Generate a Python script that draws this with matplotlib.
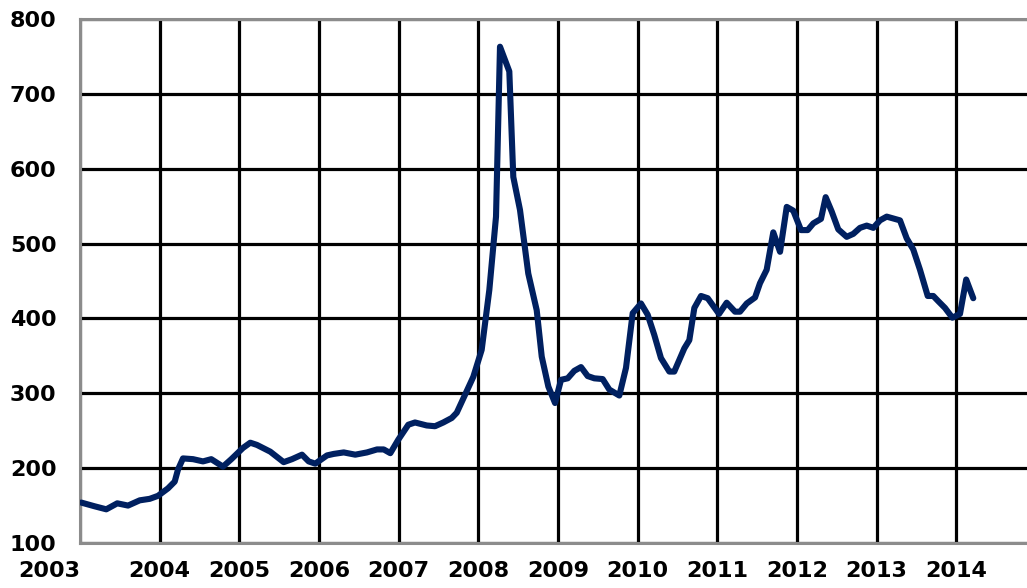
import matplotlib
matplotlib.use("Agg")
import matplotlib.pyplot as plt

# decimal years (time axis) and index values
years = [2003.016, 2003.185, 2003.330, 2003.468, 2003.603, 2003.750, 2003.875, 2003.979,
         2004.105, 2004.189, 2004.230, 2004.293, 2004.419, 2004.544, 2004.648, 2004.795,
         2004.900, 2005.046, 2005.138, 2005.222, 2005.389, 2005.557, 2005.662, 2005.787,
         2005.871, 2005.954, 2006.101, 2006.185, 2006.311, 2006.456, 2006.603, 2006.729,
         2006.813, 2006.896, 2006.996, 2007.122, 2007.206, 2007.353, 2007.457, 2007.561,
         2007.667, 2007.730, 2007.834, 2007.938, 2008.043, 2008.139, 2008.223, 2008.273,
         2008.390, 2008.440, 2008.524, 2008.628, 2008.734, 2008.797, 2008.880, 2008.964,
         2009.039, 2009.123, 2009.206, 2009.290, 2009.374, 2009.457, 2009.562, 2009.645,
         2009.771, 2009.855, 2009.939, 2010.043, 2010.127, 2010.210, 2010.294, 2010.399,
         2010.461, 2010.587, 2010.650, 2010.713, 2010.797, 2010.881, 2011.023, 2011.119,
         2011.224, 2011.286, 2011.371, 2011.475, 2011.537, 2011.621, 2011.704, 2011.789,
         2011.873, 2011.955, 2012.052, 2012.136, 2012.207, 2012.303, 2012.362, 2012.437,
         2012.520, 2012.626, 2012.709, 2012.793, 2012.877, 2012.960, 2013.044, 2013.128,
         2013.295, 2013.379, 2013.462, 2013.546, 2013.643, 2013.713, 2013.776, 2013.860,
         2013.952, 2014.048, 2014.126, 2014.215]
values = [154, 149, 145, 153, 150, 157, 159, 163,
          173, 182, 198, 213, 212, 209, 212, 202,
          212, 227, 234, 231, 222, 208, 212, 218,
          209, 206, 217, 219, 221, 218, 221, 225,
          225, 220, 238, 258, 261, 257, 256, 261,
          267, 274, 298, 322, 358, 438, 536, 763,
          730, 589, 545, 460, 411, 349, 309, 287,
          318, 320, 330, 335, 323, 320, 319, 305,
          297, 334, 407, 420, 405, 378, 347, 329,
          329, 360, 371, 414, 430, 427, 406, 421,
          409, 409, 420, 428, 447, 465, 515, 489,
          549, 544, 518, 518, 527, 533, 562, 543,
          519, 509, 513, 521, 524, 521, 531, 536,
          531, 507, 492, 465, 430, 430, 423, 414,
          401, 406, 452, 427]

year_ticks = list(range(2003, 2015))
year_labels = [str(y) for y in year_ticks]
value_ticks = [100, 200, 300, 400, 500, 600, 700, 800]

W, H = 1027, 588
fig = plt.figure(figsize=(W / 100, H / 100), dpi=100)
left_px, top_px, bottom_px = 80, 19, 543
px_per_year = 79.65
x_max = 2015
ax_w_px = (x_max - 2003) * px_per_year
ax = fig.add_axes([left_px / W, 1 - bottom_px / H, ax_w_px / W, (bottom_px - top_px) / H])

ax.plot(years, values, color="#002060", lw=4.4, solid_joinstyle="round",
        solid_capstyle="round", zorder=3)

ax.set_xlim(2003, x_max)
ax.set_ylim(100, 800)
ax.set_xticks(year_ticks)
ax.set_xticklabels(year_labels)
ax.set_yticks(value_ticks)
ax.grid(True, color="black", lw=2.3)
ax.set_axisbelow(True)

for side in ["left", "top", "bottom"]:
    ax.spines[side].set_color("#8c8c8c")
    ax.spines[side].set_linewidth(2.2)
ax.spines["right"].set_visible(False)

ax.tick_params(axis="both", length=0, labelsize=16)
ax.tick_params(axis="y", pad=17)
ax.tick_params(axis="x", pad=13)
for lab in ax.get_xticklabels() + ax.get_yticklabels():
    lab.set_fontweight("bold")
    lab.set_family("DejaVu Sans")
ax.get_xticklabels()[0].set_horizontalalignment("right")

fig.savefig("out.png", dpi=100)
